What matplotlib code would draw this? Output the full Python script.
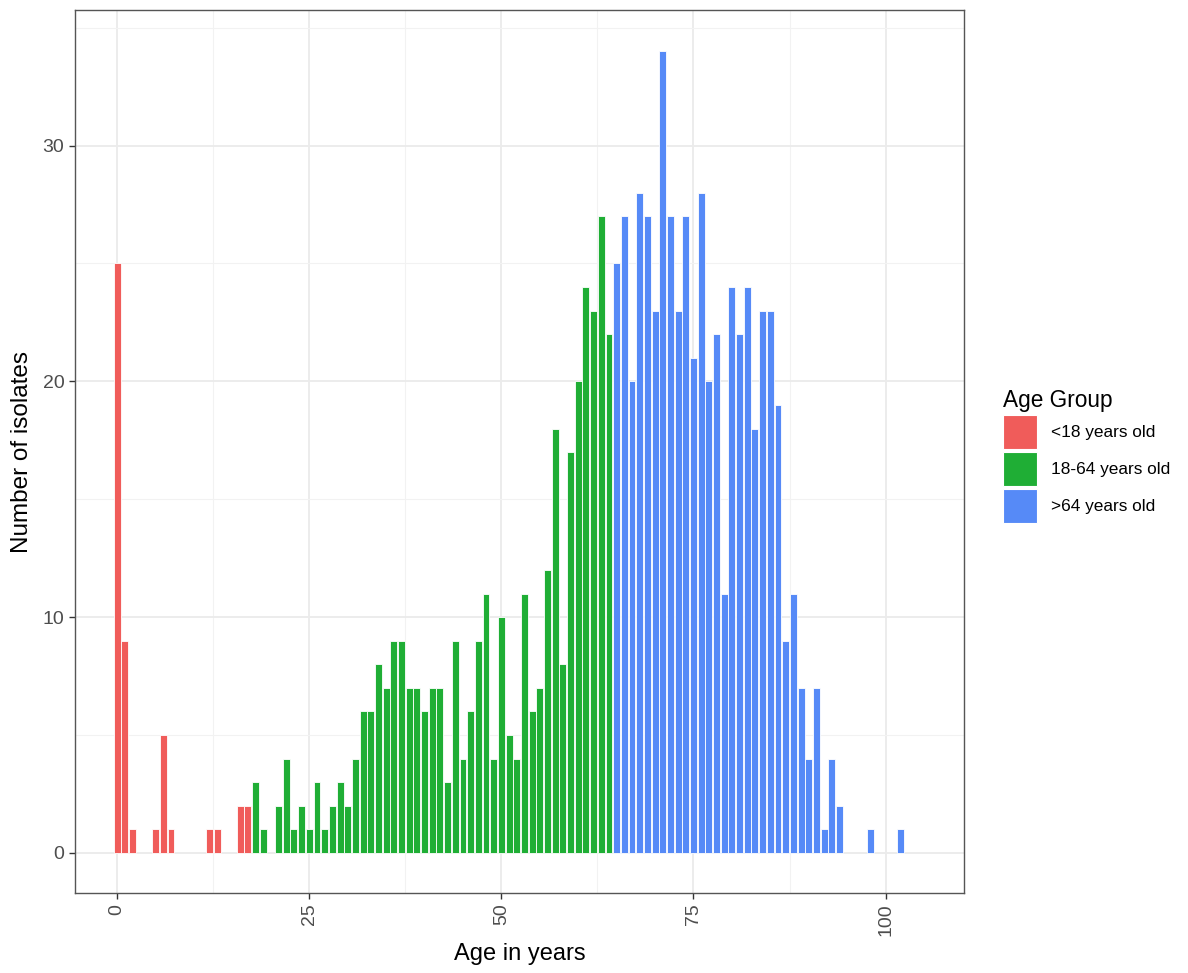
import matplotlib.pyplot as plt
from matplotlib.patches import Patch

plt.rcParams['font.family'] = ['Liberation Sans', 'DejaVu Sans']

# counts per single year of age, split by age group
young_age = [0, 1, 2, 5, 6, 7, 12, 13, 16, 17]
young_n = [25, 9, 1, 1, 5, 1, 1, 1, 2, 2]

adult_age = [18, 19, 21, 22, 23, 24, 25, 26, 27, 28, 29, 30, 31, 32, 33, 34, 35,
             36, 37, 38, 39, 40, 41, 42, 43, 44, 45, 46, 47, 48, 49, 50, 51, 52,
             53, 54, 55, 56, 57, 58, 59, 60, 61, 62, 63, 64]
adult_n = [3, 1, 2, 4, 1, 2, 1, 3, 1, 2, 3, 2, 4, 6, 6, 8, 7,
           9, 9, 7, 7, 6, 7, 7, 3, 9, 4, 6, 9, 11, 4, 10, 5, 4,
           11, 6, 7, 12, 18, 8, 17, 20, 24, 23, 27, 22]

old_age = [65, 66, 67, 68, 69, 70, 71, 72, 73, 74, 75, 76, 77, 78, 79, 80, 81,
           82, 83, 84, 85, 86, 87, 88, 89, 90, 91, 92, 93, 94, 98, 102]
old_n = [25, 27, 20, 28, 27, 23, 34, 27, 23, 27, 21, 28, 20, 22, 11, 24, 22,
         24, 18, 23, 23, 19, 9, 11, 7, 4, 7, 1, 4, 2, 1, 1]

groups = ['<18 years old', '18-64 years old', '>64 years old']
colors = ['#F05C5A', '#1FAE35', '#568AF7']

x_ticks = [0, 25, 50, 75, 100]
y_ticks = [0, 10, 20, 30]

fig = plt.figure(figsize=(11.88, 9.73), dpi=100)
ax = fig.add_axes([0.0631, 0.0822, 0.7483, 0.9075])

for ages, counts, col in zip([young_age, adult_age, old_age],
                             [young_n, adult_n, old_n], colors):
    ax.bar(ages, counts, width=0.9, color=col, edgecolor='white',
           linewidth=0.6, zorder=3)

ax.set_xlim(-5.5, 110.2)
ax.set_ylim(-1.7, 35.75)
ax.set_xticks(x_ticks)
ax.set_yticks(y_ticks)
ax.set_xticks([12.5, 37.5, 62.5, 87.5], minor=True)
ax.set_yticks([5, 15, 25, 35], minor=True)
ax.grid(which='major', color='#EBEBEB', linewidth=1.3, zorder=0)
ax.grid(which='minor', color='#F2F2F2', linewidth=0.8, zorder=0)
ax.tick_params(which='minor', length=0)
ax.tick_params(which='major', length=4.3, width=1, pad=3.4, color='#333333',
               labelcolor='#4D4D4D', labelsize=14)
ax.tick_params(axis='x', labelrotation=90)
for s in ax.spines.values():
    s.set_color('#555555')
    s.set_linewidth(1)

ax.set_xlabel('Age in years', fontsize=17, labelpad=5)
ax.set_ylabel('Number of isolates', fontsize=17.5, labelpad=7)

handles = [Patch(facecolor=c, edgecolor='white', linewidth=0.8) for c in colors]
fig.legend(handles, groups, title='Age Group', loc='upper left',
           bbox_to_anchor=(0.831, 0.616), frameon=False, fontsize=12.4,
           title_fontsize=16.3, handlelength=1.98, handleheight=2.7,
           labelspacing=0.15, handletextpad=0.8, alignment='left')

fig.savefig('out.png', dpi=100)
